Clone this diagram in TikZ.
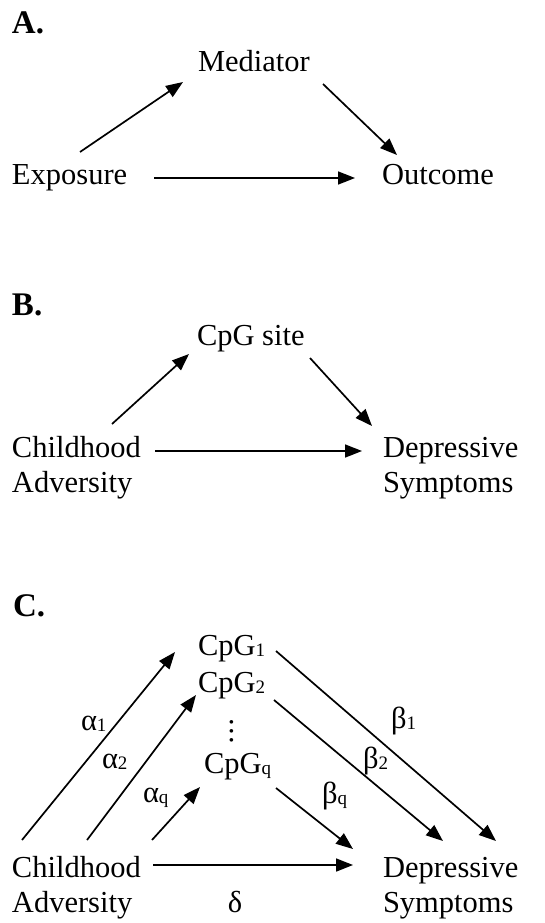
\documentclass[tikz,border=0pt]{standalone}
\usepackage{fontspec}
\setmainfont{Liberation Serif}
\usetikzlibrary{arrows.meta,calc}
\newcommand\sbs[1]{{\fontsize{19}{19}\selectfont\raisebox{-1.5pt}{#1}}}
\begin{document}
\begin{tikzpicture}[x=1pt,y=-1pt,
  txt/.style={inner sep=0pt,outer sep=0pt,anchor=base west,font=\fontsize{30.5}{35}\selectfont},
  two/.style={txt,align=left},
  lab/.style={inner sep=0pt,outer sep=0pt,anchor=base west,font=\fontsize{33}{35}\selectfont\bfseries},
  arr/.style={line width=1.7pt,-{Triangle[length=17pt,width=13pt]}}]
\useasboundingbox[fill=white] (0,0) rectangle (545,923);
% Panel A
\node[lab] (labA) at (12,34) {A.};
\node[txt] (med) at (198,72) {Mediator};
\node[txt] (exp) at (12,184) {Exposure};
\node[txt] (out) at (382,184) {Outcome};
\draw[arr] ($(exp.base west)+(68,-32)$) -- ($(med.base west)+(-15,10)$);
\draw[arr] ($(med.base west)+(125,12)$) -- ($(out.base west)+(15,-29)$);
\draw[arr] ($(exp.base west)+(142,-6)$) -- ($(out.base west)+(-27,-6)$);
% Panel B
\node[lab] (labB) at (12,315) {B.};
\node[txt] (cpg) at (197,345) {CpG site};
\node[two] (ca) at (12,492) {Childhood\\Adversity};
\node[two] (ds) at (383,492) {Depressive\\Symptoms};
\coordinate (caB) at ($(ca.base west)+(0,-35)$);
\coordinate (dsB) at ($(ds.base west)+(0,-35)$);
\draw[arr] ($(caB)+(100,-33)$) -- ($(cpg.base west)+(-8,9)$);
\draw[arr] ($(cpg.base west)+(113,13)$) -- ($(dsB)+(-11,-31)$);
\draw[arr] ($(caB)+(143,-6)$) -- ($(dsB)+(-21,-6)$);
% Panel C
\node[lab] (labC) at (13,616) {C.};
\node[txt] (c1) at (198,655) {CpG\sbs{1}};
\node[txt] (c2) at (198,692) {CpG\sbs{2}};
\node[inner sep=0pt,outer sep=0pt,anchor=base,rotate=-90,font=\fontsize{30.5}{35}\selectfont] (dots) at (230,731) {.\kern1.5pt.\kern1.5pt.};
\node[txt] (cq) at (204,773) {CpG\sbs{q}};
\node[two] (ca2) at (12,912) {Childhood\\Adversity};
\node[two] (ds2) at (383,912) {Depressive\\Symptoms};
\coordinate (caC) at ($(ca2.base west)+(0,-35)$);
\coordinate (dsC) at ($(ds2.base west)+(0,-35)$);
\node[txt,anchor=base] (delta) at (235,912) {δ};
\node[txt] (a1) at (81,730) {α\sbs{1}};
\node[txt] (a2) at (102,768) {α\sbs{2}};
\node[txt] (aq) at (143,802) {α\sbs{q}};
\node[txt] (b1) at (391,728) {β\sbs{1}};
\node[txt] (b2) at (363,768) {β\sbs{2}};
\node[txt] (bq) at (322,803) {β\sbs{q}};
\draw[arr] ($(caC)+(10,-37)$) -- ($(c1.base west)+(-23,-3)$);
\draw[arr] ($(caC)+(75,-37)$) -- ($(c2.base west)+(-2,3)$);
\draw[arr] ($(caC)+(140,-37)$) -- ($(cq.base west)+(-4,14)$);
\draw[arr] ($(c1.base west)+(78,-4)$) -- ($(dsC)+(113,-36)$);
\draw[arr] ($(c2.base west)+(76,8)$) -- ($(dsC)+(60,-36)$);
\draw[arr] ($(cq.base west)+(72,15)$) -- ($(dsC)+(-30,-28)$);
\draw[arr] ($(caC)+(141,-12)$) -- ($(dsC)+(-30,-12)$);
\end{tikzpicture}
\end{document}
